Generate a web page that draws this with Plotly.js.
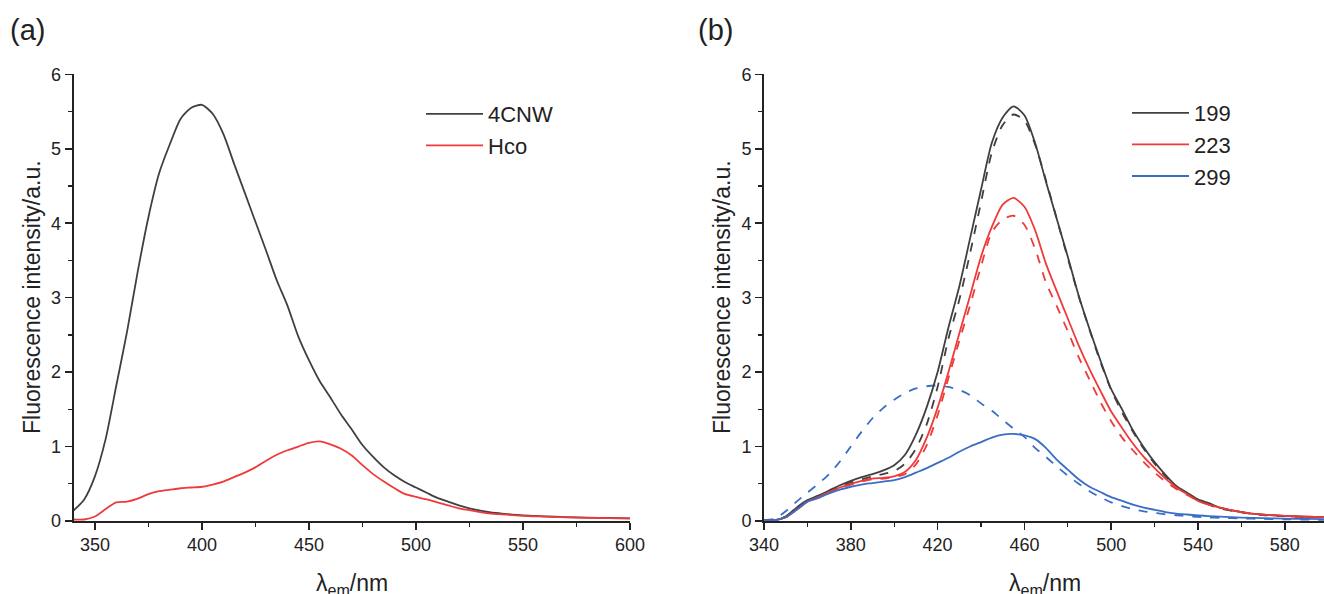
<!DOCTYPE html>
<html>
<head>
<meta charset="utf-8">
<script src="https://cdn.plot.ly/plotly-3.0.1.min.js"></script>
<style>html,body{margin:0;padding:0;background:#fff;}#chart{width:1324px;height:594px;}</style>
</head>
<body>
<div id="chart"></div>
<script>
// Wavelength grid (nm)
const wavelength = [340,345,350,355,360,365,370,375,380,385,390,395,400,405,410,415,420,425,430,435,440,445,450,455,460,465,470,475,480,485,490,495,500,505,510,515,520,525,530,535,540,545,550,560,570,580,590,600];

// Panel (a)
const cnw4 = [0.14,0.29,0.6,1.1,1.82,2.54,3.35,4.08,4.67,5.06,5.4,5.55,5.59,5.47,5.2,4.8,4.41,4.02,3.63,3.23,2.89,2.48,2.16,1.88,1.66,1.43,1.23,1.02,0.86,0.72,0.61,0.52,0.45,0.38,0.31,0.26,0.21,0.17,0.14,0.115,0.1,0.085,0.075,0.062,0.053,0.045,0.04,0.036];
const hco = [0.02,0.02,0.06,0.16,0.25,0.26,0.3,0.36,0.4,0.42,0.44,0.45,0.46,0.49,0.53,0.59,0.65,0.72,0.81,0.89,0.95,1.0,1.05,1.07,1.03,0.97,0.88,0.75,0.63,0.53,0.44,0.36,0.325,0.29,0.25,0.21,0.17,0.145,0.12,0.1,0.09,0.08,0.07,0.06,0.05,0.043,0.038,0.035];

// Panel (b) solid
const s199 = [0.01,0.01,0.06,0.18,0.28,0.34,0.41,0.48,0.54,0.59,0.63,0.68,0.75,0.89,1.16,1.53,2.0,2.6,3.15,3.8,4.45,5.08,5.42,5.57,5.45,5.07,4.55,4.05,3.55,3.03,2.58,2.16,1.77,1.5,1.22,0.99,0.79,0.62,0.47,0.38,0.29,0.24,0.18,0.12,0.085,0.068,0.057,0.05];
const s223 = [0.01,0.01,0.05,0.15,0.26,0.32,0.39,0.45,0.5,0.54,0.57,0.58,0.6,0.66,0.82,1.12,1.52,2.0,2.52,3.03,3.55,3.95,4.25,4.34,4.22,3.9,3.45,3.08,2.72,2.36,2.04,1.75,1.47,1.25,1.04,0.86,0.71,0.57,0.45,0.36,0.27,0.22,0.18,0.12,0.085,0.068,0.057,0.05];
const s299 = [0.01,0.01,0.05,0.15,0.26,0.31,0.37,0.42,0.46,0.49,0.51,0.53,0.55,0.59,0.65,0.71,0.78,0.85,0.93,1.0,1.06,1.12,1.16,1.17,1.15,1.1,0.98,0.82,0.69,0.56,0.46,0.39,0.32,0.27,0.22,0.18,0.15,0.12,0.1,0.087,0.075,0.066,0.058,0.045,0.038,0.032,0.028,0.025];
// Panel (b) dashed
const d199 = [0.01,0.01,0.06,0.17,0.27,0.33,0.39,0.46,0.52,0.56,0.6,0.63,0.67,0.77,0.97,1.3,1.8,2.45,2.97,3.6,4.28,4.95,5.32,5.46,5.38,5.05,4.57,4.05,3.53,3.02,2.57,2.14,1.76,1.46,1.2,0.97,0.77,0.6,0.46,0.36,0.28,0.22,0.17,0.115,0.08,0.065,0.055,0.048];
const d223 = [0.01,0.01,0.05,0.15,0.26,0.31,0.38,0.44,0.49,0.53,0.56,0.57,0.59,0.63,0.76,1.02,1.42,1.92,2.42,2.9,3.42,3.88,4.05,4.1,3.98,3.65,3.2,2.88,2.55,2.2,1.9,1.6,1.34,1.12,0.95,0.79,0.65,0.53,0.43,0.35,0.27,0.22,0.18,0.12,0.085,0.066,0.056,0.05];
const d299 = [0.01,0.03,0.13,0.26,0.38,0.5,0.63,0.8,1.0,1.2,1.38,1.52,1.63,1.72,1.78,1.81,1.82,1.8,1.76,1.69,1.58,1.48,1.36,1.24,1.13,0.98,0.86,0.73,0.61,0.5,0.4,0.32,0.25,0.2,0.16,0.13,0.11,0.09,0.077,0.065,0.055,0.048,0.042,0.035,0.028,0.022,0.018,0.015];

const legendA = ['4CNW','Hco'];
const legendB = ['199','223','299'];

const GRAY = '#404040', RED = '#ef3a3a', BLUE = '#3a6ec6';
const FONT = 'Arial, "Liberation Sans", sans-serif';
const LW = 1.8;

function ln(color, dash) { return {color:color, width:LW, dash:dash || 'solid', shape:'spline', smoothing:0.7}; }

const traces = [
  {x: wavelength, y: cnw4, name: legendA[0], mode:'lines', line:ln(GRAY), xaxis:'x', yaxis:'y', legend:'legend'},
  {x: wavelength, y: hco,  name: legendA[1], mode:'lines', line:ln(RED), xaxis:'x', yaxis:'y', legend:'legend'},
  {x: wavelength, y: d199, mode:'lines', line:ln(GRAY,'dash'), xaxis:'x2', yaxis:'y2', showlegend:false},
  {x: wavelength, y: d223, mode:'lines', line:ln(RED,'dash'), xaxis:'x2', yaxis:'y2', showlegend:false},
  {x: wavelength, y: d299, mode:'lines', line:ln(BLUE,'dash'), xaxis:'x2', yaxis:'y2', showlegend:false},
  {x: wavelength, y: s199, name: legendB[0], mode:'lines', line:ln(GRAY), xaxis:'x2', yaxis:'y2', legend:'legend2'},
  {x: wavelength, y: s223, name: legendB[1], mode:'lines', line:ln(RED), xaxis:'x2', yaxis:'y2', legend:'legend2'},
  {x: wavelength, y: s299, name: legendB[2], mode:'lines', line:ln(BLUE), xaxis:'x2', yaxis:'y2', legend:'legend2'}
];

const W = 1324, H = 594;
const px = v => v / W;
const py = v => 1 - v / H;

const axisCommon = {
  showgrid:false, zeroline:false, showline:true, linecolor:'#222', linewidth:1.8,
  ticks:'outside', ticklen:7, tickwidth:1.5, tickcolor:'#222',
  tickfont:{family:FONT, size:18, color:'#222'}
};
const minorCommon = {ticks:'outside', ticklen:4, tickwidth:1.3, tickcolor:'#222', showgrid:false};

const layout = {
  width: W, height: H,
  margin:{l:0, r:0, t:0, b:0},
  paper_bgcolor:'#fff', plot_bgcolor:'#fff',
  font:{family:FONT, color:'#222'},
  xaxis: Object.assign({}, axisCommon, {domain:[px(73.5), px(630)], range:[340,600], tick0:0, dtick:50, anchor:'y',
    minor:Object.assign({dtick:25, tick0:0}, minorCommon)}),
  yaxis: Object.assign({}, axisCommon, {domain:[py(521), py(74.3)], range:[0,6], dtick:1, anchor:'x',
    minor:Object.assign({dtick:0.5}, minorCommon)}),
  xaxis2: Object.assign({}, axisCommon, {domain:[px(764), 1], range:[340, 340 + 560/2.17], tick0:340, dtick:40, anchor:'y2',
    minor:Object.assign({dtick:20, tick0:340}, minorCommon)}),
  yaxis2: Object.assign({}, axisCommon, {domain:[py(521), py(74.3)], range:[0,6], dtick:1, anchor:'x2',
    minor:Object.assign({dtick:0.5}, minorCommon)}),
  legend: {x:px(421), y:py(93), xanchor:'left', yanchor:'top', bgcolor:'rgba(0,0,0,0)',
    font:{family:FONT, size:22, color:'#222'}, itemwidth:57, tracegroupgap:0},
  legend2: {x:px(1127), y:py(92), xanchor:'left', yanchor:'top', bgcolor:'rgba(0,0,0,0)',
    font:{family:FONT, size:22, color:'#222'}, itemwidth:57, tracegroupgap:0},
  annotations: [
    {text:'(a)', xref:'paper', yref:'paper', x:px(8), y:py(30), xanchor:'left', yanchor:'middle', showarrow:false, font:{family:FONT, size:29, color:'#222'}},
    {text:'(b)', xref:'paper', yref:'paper', x:px(696), y:py(30), xanchor:'left', yanchor:'middle', showarrow:false, font:{family:FONT, size:29, color:'#222'}},
    {text:'Fluorescence intensity/a.u.', xref:'paper', yref:'paper', x:px(32), y:py(297), textangle:-90, xanchor:'center', yanchor:'middle', showarrow:false, font:{family:FONT, size:23, color:'#222'}},
    {text:'Fluorescence intensity/a.u.', xref:'paper', yref:'paper', x:px(722), y:py(297), textangle:-90, xanchor:'center', yanchor:'middle', showarrow:false, font:{family:FONT, size:23, color:'#222'}},
    {text:'λ<sub>em</sub>/nm', xref:'paper', yref:'paper', x:px(352), y:py(584), xanchor:'center', yanchor:'middle', showarrow:false, font:{family:FONT, size:23, color:'#222'}},
    {text:'λ<sub>em</sub>/nm', xref:'paper', yref:'paper', x:px(1045), y:py(584), xanchor:'center', yanchor:'middle', showarrow:false, font:{family:FONT, size:23, color:'#222'}}
  ]
};

Plotly.newPlot('chart', traces, layout, {displayModeBar:false, staticPlot:true});
</script>
</body>
</html>
